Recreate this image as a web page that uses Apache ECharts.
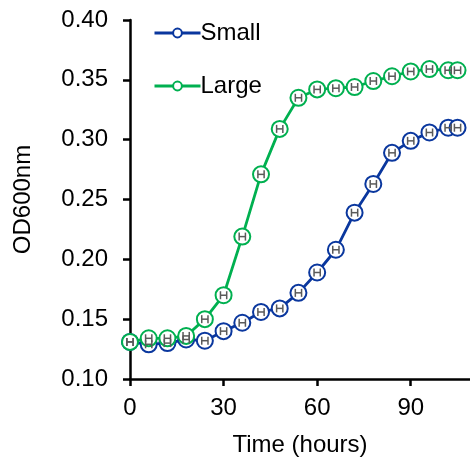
<!DOCTYPE html>
<html><head><meta charset="utf-8">
<script src="https://cdn.jsdelivr.net/npm/echarts@6/dist/echarts.min.js"></script>
<style>html,body{margin:0;padding:0;background:#fff}#c{width:470px;height:459px}</style>
</head><body><div id="c"></div>
<script>
const times = [0,6,12,18,24,30,36,42,48,54,60,66,72,78,84,90,96,102,105];
const small = [0.131,0.129,0.130,0.133,0.132,0.140,0.147,0.156,0.159,0.172,0.189,0.208,0.239,0.263,0.289,0.299,0.306,0.310,0.310];
const large = [0.131,0.134,0.134,0.136,0.150,0.170,0.219,0.271,0.309,0.335,0.342,0.343,0.344,0.349,0.353,0.357,0.359,0.358,0.358];
const smallTimeErr = [1,1,1,1,1,1,1,1,1,1,1,1,1,1,1,1,1,1,1];
const largeTimeErr = [1,1,1,1,1,1,1,1,1,1,1,1,1,1,1,1,1,1,1];
const xTicks = [0,30,60,90];

const FONT = 'Liberation Sans, Arial, sans-serif';
const BLUE = '#0a379e', GREEN = '#00b050';

function errSeries(vals, errs, name) {
  return {
    type: 'custom', name: name + 'err', z: 4, silent: true,
    data: times.map((t, i) => [t - errs[i], t + errs[i], vals[i]]),
    renderItem: function (params, api) {
      const l = api.coord([api.value(0), api.value(2)]);
      const r = api.coord([api.value(1), api.value(2)]);
      const h = 4;
      const st = { stroke: '#5a5a5a', lineWidth: 1.5 };
      return { type: 'group', children: [
        { type: 'line', shape: { x1: l[0], y1: l[1], x2: r[0], y2: r[1] }, style: st },
        { type: 'line', shape: { x1: l[0], y1: l[1]-h, x2: l[0], y2: l[1]+h }, style: st },
        { type: 'line', shape: { x1: r[0], y1: r[1]-h, x2: r[0], y2: r[1]+h }, style: st }
      ]};
    }
  };
}

function lineSeries(vals, name, color, z) {
  return {
    type: 'line', name: name, z: z,
    data: times.map((t, i) => [t, vals[i]]),
    symbol: 'emptyCircle', symbolSize: 16,
    lineStyle: { color: color, width: 2.8 },
    itemStyle: { color: color, borderColor: color, borderWidth: 3, opacity: 1 },
    emphasis: { disabled: true }
  };
}

const chart = echarts.init(document.getElementById('c'), null, { renderer: 'canvas' });
chart.setOption({
  animation: false,
  backgroundColor: '#fff',
  grid: { left: 130, right: 0, top: 20, bottom: 80, containLabel: false, outerBoundsMode: 'none' },
  legend: {
    orient: 'vertical', left: 148, top: 16, itemGap: 29,
    itemWidth: 46, itemHeight: 11,
    textStyle: { fontFamily: FONT, fontSize: 24, color: '#000', padding: [0,0,0,-5] },
    data: [
      { name: 'Small', itemStyle: { borderWidth: 2.5 }, lineStyle: { width: 3 } },
      { name: 'Large', itemStyle: { borderWidth: 2.5 }, lineStyle: { width: 3 } }
    ]
  },
  xAxis: {
    type: 'value', min: 0, max: 109,
    name: 'Time (hours)', nameLocation: 'middle', nameGap: 54,
    nameTextStyle: { fontFamily: FONT, fontSize: 24, color: '#000' },
    axisLine: { show: true, onZero: false, lineStyle: { color: '#000', width: 2.5 } },
    axisTick: { show: true, length: 7, lineStyle: { color: '#000', width: 2.5 }, customValues: xTicks },
    axisLabel: { fontFamily: FONT, fontSize: 24, color: '#000', margin: 17, customValues: xTicks },
    splitLine: { show: false }
  },
  yAxis: {
    type: 'value', min: 0.10, max: 0.40, interval: 0.05,
    name: 'OD600nm', nameLocation: 'middle', nameGap: 95, nameRotate: 90,
    nameTextStyle: { fontFamily: FONT, fontSize: 24, color: '#000' },
    axisLine: { show: true, lineStyle: { color: '#000', width: 2.5 } },
    axisTick: { show: true, length: 7, lineStyle: { color: '#000', width: 2.5 } },
    axisLabel: { fontFamily: FONT, fontSize: 24, color: '#000', margin: 22,
      formatter: v => v.toFixed(2) },
    splitLine: { show: false }
  },
  series: [
    lineSeries(small, 'Small', BLUE, 2),
    lineSeries(large, 'Large', GREEN, 3),
    errSeries(small, smallTimeErr, 'Small'),
    errSeries(large, largeTimeErr, 'Large')
  ]
});
</script></body></html>
